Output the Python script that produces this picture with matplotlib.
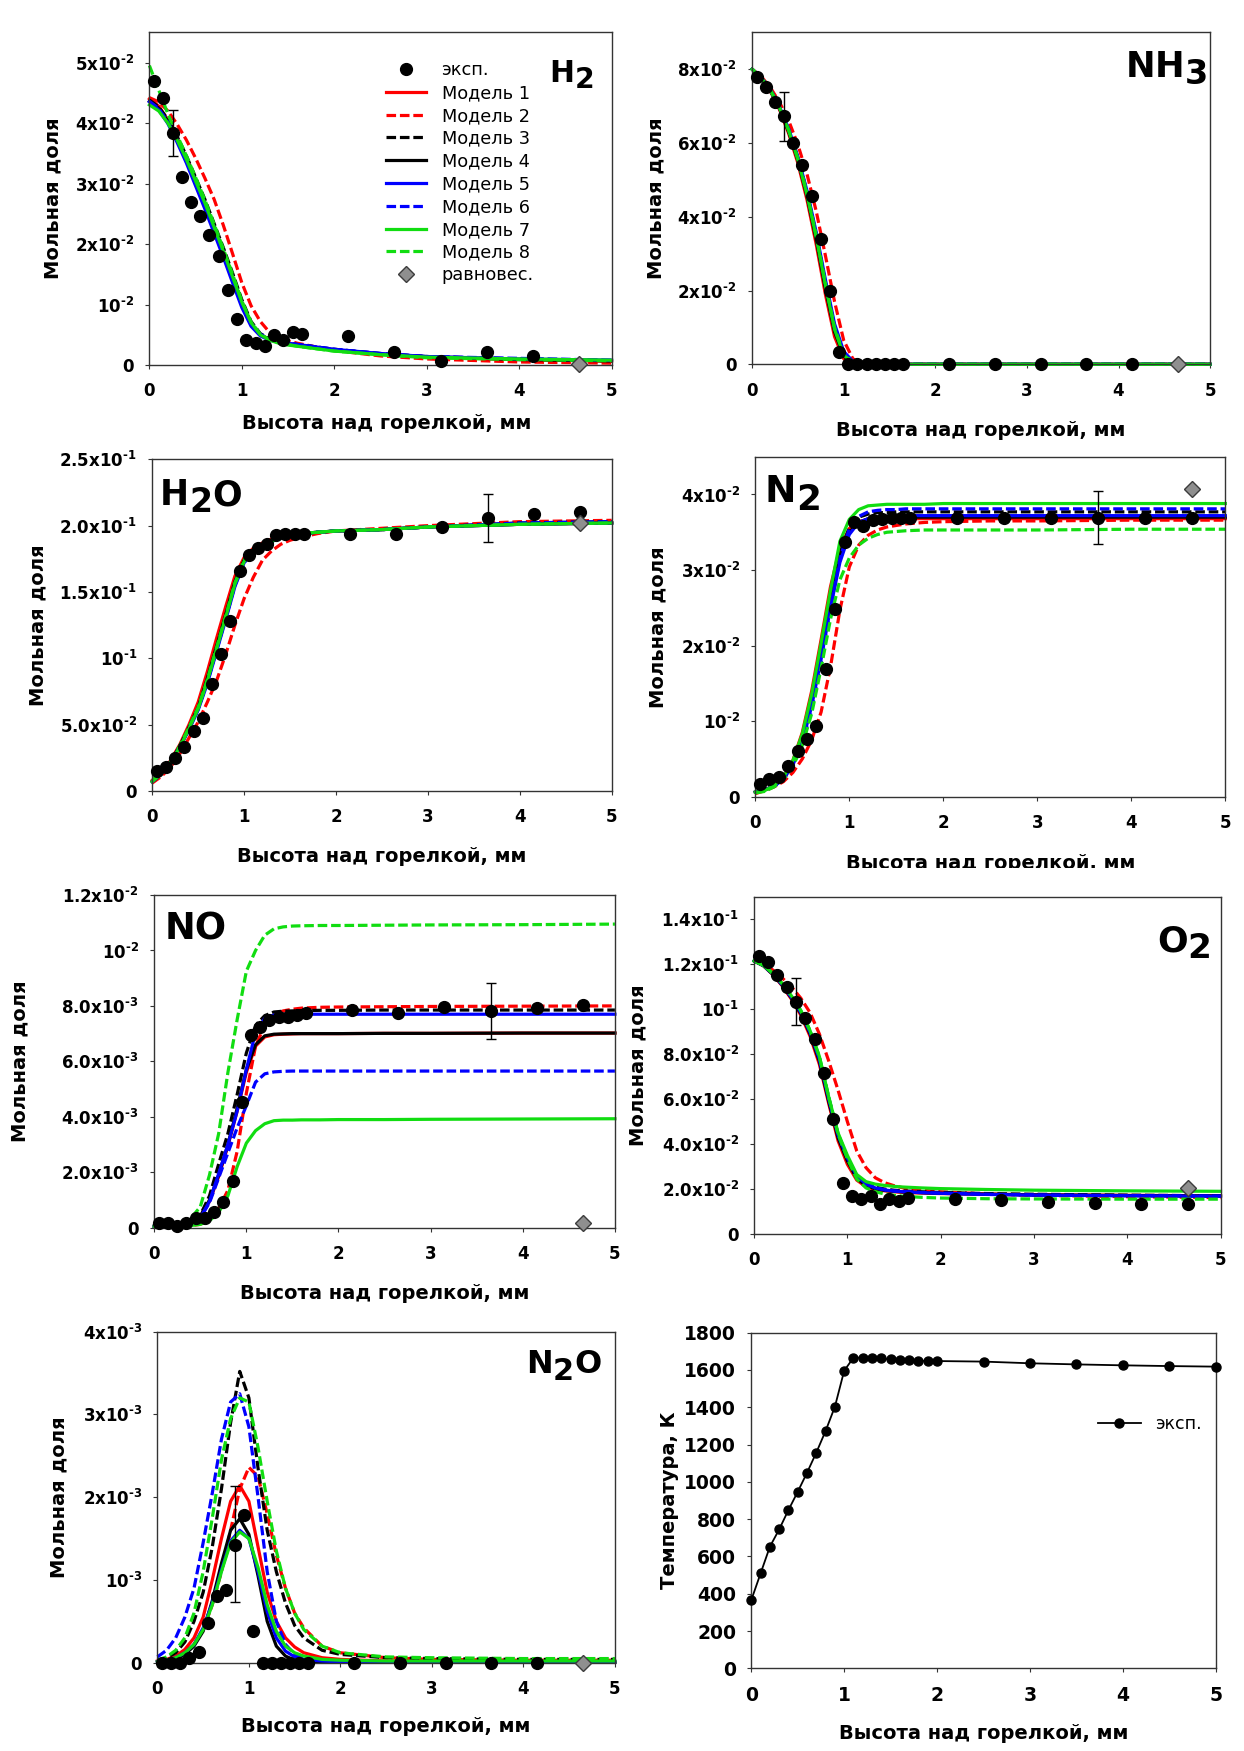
import matplotlib
matplotlib.use("Agg")
import matplotlib.pyplot as plt
from matplotlib.lines import Line2D
from matplotlib.patches import Rectangle

plt.rcParams["font.family"] = "DejaVu Sans"
plt.rcParams["mathtext.fontset"] = "dejavusans"
plt.rcParams["mathtext.default"] = "bf"

W, H = 1244, 1751

# --- data -------------------------------------------------------------
# heights above the burner, mm
z_exp = [0.05, 0.15, 0.25, 0.35, 0.45, 0.55, 0.65, 0.75, 0.85, 0.95, 1.05, 1.15,
         1.25, 1.35, 1.45, 1.55, 1.65, 2.15, 2.65, 3.15, 3.65, 4.15, 4.65]
z_mod = [0, 0.1, 0.2, 0.3, 0.4, 0.5, 0.6, 0.7, 0.8, 0.9, 1.0, 1.1, 1.2, 1.3, 1.4,
         1.5, 1.6, 1.8, 2.0, 2.5, 3.0, 4.0, 5.0]
z_eq = 4.65

# H2, units of 1e-2
h2_exp = [4.70, 4.42, 3.83, 3.11, 2.70, 2.46, 2.15, 1.81, 1.24, 0.76, 0.41, 0.37,
          0.31, 0.49, 0.41, 0.54, 0.51, 0.48, 0.22, 0.07, 0.22, 0.15]
h2_err = (0.25, 3.83, 0.38)
h2_eq = 0.02
h2_mod = [
    [4.40, 4.28, 4.05, 3.75, 3.42, 3.05, 2.68, 2.28, 1.88, 1.45, 1.02, 0.68, 0.50, 0.42, 0.38, 0.35, 0.33, 0.29, 0.25, 0.18, 0.13, 0.09, 0.06],
    [4.42, 4.35, 4.20, 3.98, 3.72, 3.42, 3.09, 2.74, 2.31, 1.84, 1.36, 0.98, 0.72, 0.54, 0.45, 0.40, 0.36, 0.30, 0.24, 0.15, 0.10, 0.05, 0.03],
    [4.38, 4.27, 4.06, 3.78, 3.46, 3.10, 2.74, 2.34, 1.94, 1.52, 1.08, 0.72, 0.52, 0.43, 0.39, 0.36, 0.34, 0.30, 0.26, 0.19, 0.14, 0.10, 0.07],
    [4.36, 4.25, 4.03, 3.74, 3.41, 3.05, 2.68, 2.28, 1.88, 1.46, 1.03, 0.68, 0.50, 0.42, 0.38, 0.35, 0.33, 0.29, 0.25, 0.18, 0.14, 0.09, 0.07],
    [4.35, 4.22, 3.99, 3.68, 3.34, 2.96, 2.58, 2.18, 1.78, 1.36, 0.95, 0.64, 0.48, 0.41, 0.38, 0.36, 0.34, 0.30, 0.26, 0.19, 0.14, 0.10, 0.08],
    [4.36, 4.24, 4.02, 3.72, 3.40, 3.03, 2.66, 2.27, 1.87, 1.45, 1.03, 0.69, 0.51, 0.43, 0.39, 0.36, 0.34, 0.30, 0.26, 0.19, 0.14, 0.11, 0.08],
    [4.30, 4.20, 4.00, 3.72, 3.40, 3.04, 2.68, 2.28, 1.88, 1.46, 1.04, 0.70, 0.50, 0.41, 0.36, 0.33, 0.31, 0.27, 0.23, 0.17, 0.13, 0.10, 0.08],
    [4.95, 4.55, 4.15, 3.80, 3.46, 3.10, 2.73, 2.33, 1.92, 1.50, 1.06, 0.71, 0.51, 0.42, 0.37, 0.34, 0.31, 0.27, 0.23, 0.17, 0.12, 0.09, 0.07],
]

# NH3, units of 1e-2
nh3_exp = [7.78, 7.51, 7.11, 6.72, 6.01, 5.39, 4.55, 3.39, 1.99, 0.34, 0, 0,
           0, 0, 0, 0, 0, 0, 0, 0, 0, 0]
nh3_err = (0.35, 6.72, 0.665)
nh3_eq = 0.0
nh3_mod = [
    [8.00, 7.75, 7.40, 6.90, 6.25, 5.45, 4.45, 3.25, 1.90, 0.75, 0.15, 0.02, 0, 0, 0, 0, 0, 0, 0, 0, 0, 0, 0],
    [8.00, 7.80, 7.50, 7.10, 6.60, 5.95, 5.15, 4.15, 2.95, 1.70, 0.65, 0.15, 0.02, 0, 0, 0, 0, 0, 0, 0, 0, 0, 0],
    [8.00, 7.77, 7.44, 6.97, 6.36, 5.60, 4.66, 3.52, 2.22, 1.02, 0.30, 0.06, 0.01, 0, 0, 0, 0, 0, 0, 0, 0, 0, 0],
    [8.00, 7.76, 7.42, 6.93, 6.30, 5.52, 4.55, 3.38, 2.05, 0.88, 0.22, 0.04, 0, 0, 0, 0, 0, 0, 0, 0, 0, 0, 0],
    [8.00, 7.77, 7.45, 6.98, 6.38, 5.62, 4.70, 3.58, 2.30, 1.10, 0.35, 0.08, 0.01, 0, 0, 0, 0, 0, 0, 0, 0, 0, 0],
    [8.00, 7.76, 7.43, 6.95, 6.34, 5.57, 4.62, 3.48, 2.18, 0.98, 0.28, 0.06, 0.01, 0, 0, 0, 0, 0, 0, 0, 0, 0, 0],
    [8.00, 7.76, 7.43, 6.95, 6.33, 5.55, 4.60, 3.45, 2.15, 0.95, 0.25, 0.05, 0, 0, 0, 0, 0, 0, 0, 0, 0, 0, 0],
    [8.00, 7.76, 7.43, 6.96, 6.35, 5.58, 4.63, 3.50, 2.20, 1.00, 0.28, 0.05, 0, 0, 0, 0, 0, 0, 0, 0, 0, 0, 0],
]

# H2O, mole fraction
h2o_exp = [0.0151, 0.0183, 0.0251, 0.0334, 0.0455, 0.0553, 0.0804, 0.103, 0.128, 0.166,
           0.178, 0.183, 0.186, 0.193, 0.194, 0.194, 0.194, 0.194, 0.194, 0.199,
           0.2055, 0.209, 0.210]
h2o_err = (3.65, 0.2055, 0.018)
h2o_eq = 0.2023
h2o_mod = [
    [.008, .014, .023, .035, .050, .067, .090, .115, .139, .162, .176, .183, .187, .190, .192, .193, .194, .195, .196, .197, .199, .201, .202],
    [.006, .011, .018, .028, .040, .052, .067, .083, .103, .125, .145, .161, .174, .181, .186, .189, .191, .194, .196, .198, .200, .203, .204],
    [.007, .013, .022, .033, .047, .062, .083, .107, .131, .156, .173, .181, .185, .188, .191, .193, .194, .195, .196, .197, .199, .202, .203],
    [.007, .013, .022, .034, .048, .063, .085, .109, .133, .158, .174, .182, .186, .189, .191, .193, .194, .195, .196, .197, .199, .201, .202],
    [.007, .013, .022, .033, .046, .061, .081, .105, .129, .154, .172, .181, .185, .188, .191, .193, .194, .195, .196, .197, .199, .201, .202],
    [.007, .013, .022, .033, .047, .062, .082, .106, .130, .155, .172, .181, .185, .188, .191, .193, .194, .195, .196, .197, .199, .202, .203],
    [.007, .013, .022, .033, .047, .062, .083, .107, .131, .156, .173, .181, .185, .188, .191, .193, .194, .195, .196, .197, .199, .201, .202],
    [.008, .014, .023, .034, .048, .063, .084, .108, .132, .157, .174, .182, .186, .189, .191, .193, .194, .195, .196, .197, .199, .201, .202],
]

# N2, units of 1e-2
n2_exp = [0.163, 0.23, 0.265, 0.40, 0.61, 0.76, 0.93, 1.69, 2.48, 3.37, 3.63, 3.58,
          3.66, 3.68, 3.69, 3.69, 3.69, 3.69, 3.69, 3.69, 3.69, 3.69, 3.69]
n2_err = (3.65, 3.69, 0.35)
n2_eq = 4.07
n2_mod = [
    [0.06, 0.09, 0.15, 0.26, 0.48, 0.85, 1.40, 2.08, 2.78, 3.30, 3.55, 3.64, 3.67, 3.68, 3.68, 3.68, 3.68, 3.68, 3.68, 3.68, 3.68, 3.68, 3.68],
    [0.04, 0.08, 0.13, 0.20, 0.32, 0.50, 0.75, 1.12, 1.72, 2.47, 3.04, 3.33, 3.46, 3.53, 3.57, 3.59, 3.61, 3.63, 3.64, 3.65, 3.65, 3.66, 3.66],
    [0.06, 0.09, 0.14, 0.24, 0.44, 0.76, 1.27, 1.93, 2.63, 3.22, 3.56, 3.70, 3.74, 3.76, 3.76, 3.77, 3.77, 3.77, 3.77, 3.77, 3.77, 3.77, 3.77],
    [0.06, 0.09, 0.14, 0.24, 0.44, 0.78, 1.30, 1.97, 2.65, 3.20, 3.50, 3.63, 3.68, 3.69, 3.70, 3.70, 3.70, 3.70, 3.70, 3.70, 3.70, 3.70, 3.70],
    [0.06, 0.09, 0.14, 0.23, 0.42, 0.72, 1.20, 1.82, 2.50, 3.10, 3.47, 3.63, 3.68, 3.70, 3.71, 3.71, 3.72, 3.72, 3.72, 3.72, 3.72, 3.72, 3.72],
    [0.06, 0.09, 0.14, 0.23, 0.41, 0.70, 1.15, 1.78, 2.50, 3.15, 3.55, 3.71, 3.77, 3.79, 3.80, 3.80, 3.81, 3.81, 3.81, 3.81, 3.81, 3.81, 3.81],
    [0.06, 0.08, 0.15, 0.26, 0.48, 0.83, 1.36, 2.03, 2.73, 3.38, 3.67, 3.80, 3.85, 3.86, 3.87, 3.87, 3.87, 3.87, 3.88, 3.88, 3.88, 3.88, 3.88],
    [0.05, 0.07, 0.13, 0.23, 0.40, 0.68, 1.10, 1.70, 2.35, 2.87, 3.16, 3.33, 3.42, 3.47, 3.50, 3.51, 3.52, 3.53, 3.53, 3.53, 3.53, 3.54, 3.54],
]

# NO, units of 1e-3
no_exp = [0.16, 0.16, 0.07, 0.16, 0.36, 0.34, 0.55, 0.94, 1.68, 4.54, 6.95, 7.25,
          7.49, 7.61, 7.61, 7.67, 7.73, 7.87, 7.75, 7.97, 7.81, 7.93, 8.03]
no_err = (3.65, 7.81, 1.0)
no_eq = 0.18
no_mod = [
    [0.05, 0.05, 0.06, 0.08, 0.15, 0.40, 0.95, 1.85, 2.95, 4.20, 5.60, 6.55, 6.88, 6.96, 6.98, 6.99, 7.00, 7.00, 7.00, 7.01, 7.01, 7.02, 7.02],
    [0.05, 0.05, 0.05, 0.06, 0.08, 0.12, 0.30, 0.70, 1.35, 2.75, 4.85, 6.55, 7.30, 7.65, 7.82, 7.88, 7.92, 7.95, 7.96, 7.97, 7.98, 7.99, 8.00],
    [0.05, 0.05, 0.06, 0.10, 0.20, 0.45, 1.15, 2.30, 3.40, 4.80, 6.30, 7.30, 7.65, 7.78, 7.81, 7.82, 7.83, 7.84, 7.84, 7.85, 7.85, 7.85, 7.85],
    [0.05, 0.05, 0.06, 0.09, 0.17, 0.42, 1.00, 1.90, 3.00, 4.30, 5.70, 6.60, 6.92, 6.98, 6.99, 7.00, 7.00, 7.00, 7.00, 7.01, 7.01, 7.02, 7.02],
    [0.05, 0.05, 0.06, 0.09, 0.16, 0.35, 0.95, 1.95, 3.00, 4.20, 5.70, 7.05, 7.55, 7.67, 7.69, 7.70, 7.70, 7.70, 7.70, 7.70, 7.70, 7.70, 7.70],
    [0.05, 0.05, 0.06, 0.09, 0.16, 0.35, 0.90, 1.80, 2.70, 3.60, 4.40, 5.25, 5.55, 5.62, 5.64, 5.65, 5.65, 5.65, 5.65, 5.65, 5.65, 5.65, 5.65],
    [0.05, 0.05, 0.05, 0.06, 0.08, 0.12, 0.25, 0.55, 1.15, 2.20, 3.05, 3.50, 3.75, 3.86, 3.88, 3.88, 3.89, 3.89, 3.90, 3.90, 3.91, 3.92, 3.93],
    [0.05, 0.06, 0.08, 0.15, 0.35, 0.75, 1.90, 3.40, 5.60, 7.50, 9.25, 10.00, 10.55, 10.78, 10.85, 10.88, 10.89, 10.90, 10.90, 10.91, 10.92, 10.93, 10.95],
]

# O2, units of 1e-2
o2_exp = [12.37, 12.12, 11.52, 10.97, 10.34, 9.62, 8.66, 7.18, 5.10, 2.28, 1.69, 1.54,
          1.69, 1.33, 1.54, 1.47, 1.59, 1.56, 1.51, 1.44, 1.36, 1.32, 1.32]
o2_err = (0.45, 10.34, 1.04)
o2_eq = 2.03
o2_mod = [
    [12.15, 11.93, 11.55, 11.05, 10.45, 9.75, 8.80, 7.55, 5.80, 4.15, 3.10, 2.40, 2.10, 1.98, 1.92, 1.88, 1.85, 1.82, 1.80, 1.77, 1.75, 1.72, 1.70],
    [12.15, 12.00, 11.75, 11.40, 11.00, 10.50, 9.85, 8.90, 7.70, 6.40, 5.00, 3.70, 2.95, 2.50, 2.28, 2.15, 2.05, 1.95, 1.88, 1.78, 1.72, 1.66, 1.62],
    [12.15, 11.95, 11.58, 11.12, 10.55, 9.90, 9.00, 7.80, 6.00, 4.40, 3.40, 2.55, 2.22, 2.08, 2.00, 1.95, 1.92, 1.88, 1.85, 1.80, 1.77, 1.73, 1.70],
    [12.15, 11.94, 11.56, 11.08, 10.50, 9.82, 8.90, 7.68, 5.90, 4.28, 3.25, 2.48, 2.15, 2.01, 1.94, 1.90, 1.87, 1.84, 1.81, 1.77, 1.74, 1.71, 1.69],
    [12.15, 11.95, 11.58, 11.10, 10.53, 9.87, 8.97, 7.78, 6.00, 4.40, 3.38, 2.58, 2.22, 2.05, 1.96, 1.91, 1.88, 1.84, 1.81, 1.76, 1.73, 1.70, 1.68],
    [12.15, 11.95, 11.58, 11.11, 10.55, 9.90, 9.00, 7.82, 6.05, 4.45, 3.42, 2.60, 2.24, 2.06, 1.97, 1.92, 1.89, 1.85, 1.82, 1.77, 1.74, 1.71, 1.69],
    [12.15, 11.95, 11.60, 11.15, 10.60, 9.95, 9.05, 7.90, 6.10, 4.50, 3.50, 2.65, 2.33, 2.22, 2.16, 2.12, 2.09, 2.05, 2.02, 1.98, 1.95, 1.92, 1.90],
    [12.15, 11.96, 11.60, 11.15, 10.60, 9.95, 9.05, 7.90, 6.10, 4.45, 3.35, 2.45, 2.05, 1.88, 1.78, 1.72, 1.68, 1.63, 1.60, 1.57, 1.56, 1.55, 1.55],
]

# N2O, units of 1e-3
n2o_exp = [0, 0, 0, 0.06, 0.13, 0.475, 0.81, 0.88, 1.42, 1.78, 0.38, 0,
           0, 0, 0, 0, 0, 0, 0, 0, 0, 0]
n2o_err = (0.85, 1.43, 0.70)
n2o_eq = 0.0
n2o_mod = [
    [0.02, 0.04, 0.08, 0.16, 0.30, 0.55, 1.00, 1.50, 1.95, 2.14, 1.95, 1.40, 0.85, 0.50, 0.30, 0.19, 0.12, 0.06, 0.04, 0.02, 0.01, 0.01, 0.01],
    [0.02, 0.03, 0.06, 0.12, 0.22, 0.40, 0.70, 1.10, 1.60, 2.10, 2.36, 2.25, 1.80, 1.30, 0.90, 0.60, 0.42, 0.20, 0.12, 0.06, 0.04, 0.03, 0.03],
    [0.03, 0.06, 0.12, 0.25, 0.50, 0.85, 1.40, 2.10, 2.90, 3.52, 3.20, 2.35, 1.60, 1.10, 0.72, 0.45, 0.30, 0.15, 0.10, 0.06, 0.05, 0.04, 0.04],
    [0.01, 0.02, 0.05, 0.10, 0.20, 0.38, 0.75, 1.20, 1.60, 1.74, 1.55, 1.05, 0.50, 0.20, 0.08, 0.03, 0.01, 0.005, 0.005, 0.005, 0.005, 0.005, 0.005],
    [0.01, 0.03, 0.06, 0.12, 0.22, 0.42, 0.72, 1.12, 1.47, 1.60, 1.50, 1.10, 0.62, 0.30, 0.14, 0.07, 0.04, 0.02, 0.01, 0.01, 0.01, 0.01, 0.01],
    [0.07, 0.15, 0.30, 0.55, 0.90, 1.45, 2.05, 2.70, 3.15, 3.25, 2.85, 2.00, 1.10, 0.50, 0.22, 0.10, 0.06, 0.03, 0.02, 0.01, 0.01, 0.01, 0.01],
    [0.01, 0.03, 0.06, 0.12, 0.22, 0.40, 0.70, 1.10, 1.45, 1.58, 1.50, 1.15, 0.70, 0.38, 0.20, 0.12, 0.08, 0.04, 0.03, 0.02, 0.02, 0.02, 0.02],
    [0.03, 0.07, 0.15, 0.30, 0.60, 1.10, 1.75, 2.45, 2.95, 3.20, 3.15, 2.60, 1.95, 1.35, 0.90, 0.60, 0.40, 0.20, 0.12, 0.07, 0.06, 0.05, 0.05],
]

# temperature profile
t_z = [0, 0.1, 0.2, 0.3, 0.4, 0.5, 0.6, 0.7, 0.8, 0.9, 1.0, 1.1, 1.2, 1.3, 1.4,
       1.5, 1.6, 1.7, 1.8, 1.9, 2.0, 2.5, 3.0, 3.5, 4.0, 4.5, 5.0]
t_K = [366, 509, 652, 745, 849, 947, 1049, 1157, 1273, 1403, 1596, 1666, 1666, 1662,
       1662, 1657, 1653, 1653, 1650, 1648, 1648, 1645, 1636, 1630, 1625, 1621, 1618]


def sci(m, e):
    return (m + "x" if m else "") + "10$^{\u2010%d}$" % e


h2_ticks = [0, 1, 2, 3, 4, 5]
h2_labels = ["0", sci("", 2), sci("2", 2), sci("3", 2), sci("4", 2), sci("5", 2)]
nh3_ticks = [0, 2, 4, 6, 8]
nh3_labels = ["0", sci("2", 2), sci("4", 2), sci("6", 2), sci("8", 2)]
h2o_ticks = [0, 0.05, 0.10, 0.15, 0.20, 0.25]
h2o_labels = ["0", sci("5.0", 2), sci("", 1), sci("1.5", 1), sci("2.0", 1), sci("2.5", 1)]
n2_ticks = [0, 1, 2, 3, 4]
n2_labels = ["0", sci("", 2), sci("2", 2), sci("3", 2), sci("4", 2)]
no_ticks = [0, 2, 4, 6, 8, 10, 12]
no_labels = ["0", sci("2.0", 3), sci("4.0", 3), sci("6.0", 3), sci("8.0", 3), sci("", 2), sci("1.2", 2)]
o2_ticks = [0, 2, 4, 6, 8, 10, 12, 14]
o2_labels = ["0", sci("2.0", 2), sci("4.0", 2), sci("6.0", 2), sci("8.0", 2), sci("", 1), sci("1.2", 1), sci("1.4", 1)]
n2o_ticks = [0, 1, 2, 3, 4]
n2o_labels = ["0", sci("", 3), sci("2", 3), sci("3", 3), sci("4", 3)]
t_ticks = list(range(0, 1801, 200))

model_names = ["Модель %d" % i for i in range(1, 9)]
model_styles = [("#ff0000", "-"), ("#ff0000", "--"), ("#000000", "--"), ("#000000", "-"),
                ("#0000ff", "-"), ("#0000ff", "--"), ("#11dd11", "-"), ("#11dd11", "--")]

XLAB = "Высота над горелкой, мм"
YLAB = "Мольная доля"
EQ_FACE, EQ_EDGE = "#8f8f8f", "#3c3c3c"
DASH = (3.0, 1.2)
LW = 2.3

# --- figure -----------------------------------------------------------
fig = plt.figure(figsize=(W / 100, H / 100), dpi=100)
fig.patch.set_facecolor("white")


def fx(x):
    return x / W


def fy(y):
    return 1 - y / H


def make_axes(l, t, r, b, ticksize=12):
    ax = fig.add_axes([fx(l), fy(b), (r - l) / W, (b - t) / H])
    for s in ax.spines.values():
        s.set_color("#333333")
        s.set_linewidth(1.0)
    ax.tick_params(direction="out", length=3, width=0.8, color="#333333",
                   labelsize=ticksize)
    ax.tick_params(axis="x", pad=9.5)
    ax.tick_params(axis="y", pad=8)
    ax.set_xlim(0, 5)
    ax.set_xticks([0, 1, 2, 3, 4, 5])
    ax.set_xticklabels(["0", "1", "2", "3", "4", "5"], fontweight="bold")
    return ax


def axis_labels(ax, l, t, r, b, ylab, ylab_x, xlab_y=None, xlab_x=None, ysize=14):
    ax.set_ylabel(ylab, fontsize=ysize, fontweight="bold", va="center")
    ax.yaxis.set_label_coords(fx(ylab_x), fy((t + b) / 2), transform=fig.transFigure)
    if xlab_y is not None:
        ax.set_xlabel(XLAB, fontsize=14, fontweight="bold", va="center")
        cx = (l + r) / 2 if xlab_x is None else xlab_x
        ax.xaxis.set_label_coords(fx(cx), fy(xlab_y), transform=fig.transFigure)


def formula(ax, x, y, parts, size):
    # chemical formula with lowered digits, letters and digits at nearly the same size
    prev = fig.text(fx(x), fy(y), parts[0], fontsize=size, fontweight="bold",
                    ha="left", va="baseline")
    low = False
    for p in parts[1:]:
        is_digit = p.isdigit()
        if is_digit and not low:
            dy, fs = -0.2 * size, 0.95 * size
        elif not is_digit and low:
            dy, fs = 0.2 * size, size
        else:
            dy, fs = 0, size if not is_digit else 0.95 * size
        low = is_digit
        prev = ax.annotate(p, xy=(1, 0), xycoords=prev, xytext=(0, dy),
                           textcoords="offset points", fontsize=fs, fontweight="bold",
                           ha="left", va="bottom", annotation_clip=False)


def species(ax, scale, mod, exp, err, eq, ylim, ticks, labels):
    for (c, ls), y in zip(model_styles, mod):
        kw = dict(dashes=DASH) if ls == "--" else {}
        ax.plot(z_mod, [v * scale for v in y], color=c, lw=LW, ls=ls,
                clip_on=False, zorder=2, **kw)
    ax.plot(z_exp[:len(exp)], [v * scale for v in exp], ls="none", marker="o",
            ms=8.5, color="k", clip_on=False, zorder=4)
    ax.errorbar([err[0]], [err[1] * scale], yerr=[err[2] * scale], fmt="none",
                ecolor="k", elinewidth=1.0, capsize=3.7, capthick=1.0, zorder=3)
    ax.plot([z_eq], [eq * scale], ls="none", marker="D", ms=8.5, mfc=EQ_FACE,
            mec=EQ_EDGE, mew=1.0, clip_on=False, zorder=5)
    ax.set_ylim(*ylim)
    ax.set_yticks([v * scale for v in ticks])
    ax.set_yticklabels(labels, fontweight="bold")


# H2
box = (149.4, 31.7, 611.5, 365.0)
ax = make_axes(*box)
species(ax, 1e-2, h2_mod, h2_exp, h2_err, h2_eq, (0, 0.0551), h2_ticks, h2_labels)
axis_labels(ax, *box, YLAB, 53, 423, 386.5)
formula(ax, 549.6, 81.7, ["H", "2"], 21.4)
handles = [Line2D([], [], ls="none", marker="o", ms=8.5, color="k")]
for c, ls in model_styles:
    kw = dict(dashes=DASH) if ls == "--" else {}
    handles.append(Line2D([], [], color=c, lw=LW, ls=ls, **kw))
handles.append(Line2D([], [], ls="none", marker="D", ms=8.5, mfc=EQ_FACE, mec=EQ_EDGE))
l, t, r, b = box
ax.legend(handles, ["эксп."] + model_names + ["равновес."], loc="upper left",
          bbox_to_anchor=((385.5 - l) / (r - l), (b - 61.3) / (b - t)),
          frameon=False, fontsize=12.8, handlelength=2.3, handletextpad=0.85,
          labelspacing=0.27, borderpad=0, borderaxespad=0)

# NH3
box = (752.1, 32.3, 1210.1, 364.3)
ax = make_axes(*box)
species(ax, 1e-2, nh3_mod, nh3_exp, nh3_err, nh3_eq, (0, 0.09), nh3_ticks, nh3_labels)
axis_labels(ax, *box, YLAB, 656, 430)
formula(ax, 1125.4, 76.7, ["N", "H", "3"], 25.5)

# H2O
box = (152.2, 459.3, 611.7, 791.0)
ax = make_axes(*box)
species(ax, 1.0, h2o_mod, h2o_exp, h2o_err, h2o_eq, (0, 0.25), h2o_ticks, h2o_labels)
axis_labels(ax, *box, YLAB, 37.6, 856.7)
formula(ax, 160, 505, ["H", "2", "O"], 25)

# N2
box = (755.3, 456.7, 1225.3, 796.7)
ax = make_axes(*box)
species(ax, 1e-2, n2_mod, n2_exp, n2_err, n2_eq, (0, 0.045), n2_ticks, n2_labels)
axis_labels(ax, *box, YLAB, 658, 863)
formula(ax, 765, 502, ["N", "2"], 27)

# NO
box = (154.2, 895.0, 614.9, 1227.7)
ax = make_axes(*box)
species(ax, 1e-3, no_mod, no_exp, no_err, no_eq, (0, 0.012), no_ticks, no_labels)
axis_labels(ax, *box, YLAB, 20, 1293)
formula(ax, 165, 939, ["NO"], 26.5)

# O2 (no x label under this panel)
box = (754.1, 896.7, 1220.5, 1234.0)
ax = make_axes(*box)
species(ax, 1e-2, o2_mod, o2_exp, o2_err, o2_eq, (0, 0.1501), o2_ticks, o2_labels)
axis_labels(ax, *box, YLAB, 638)
formula(ax, 1157, 951, ["O", "2"], 26)

# N2O
box = (157.4, 1331.7, 614.9, 1662.7)
ax = make_axes(*box)
species(ax, 1e-3, n2o_mod, n2o_exp, n2o_err, n2o_eq, (0, 0.004), n2o_ticks, n2o_labels)
axis_labels(ax, *box, YLAB, 59, 1726.7)
formula(ax, 526, 1373, ["N", "2", "O"], 23)

# temperature
box = (751.3, 1332.7, 1215.7, 1668.3)
ax = make_axes(*box, ticksize=13.5)
ax.plot(t_z, t_K, color="k", lw=1.3, marker="o", ms=6.5, clip_on=False, zorder=3,
        label="эксп.")
ax.set_ylim(0, 1800)
ax.set_yticks(t_ticks)
ax.set_yticklabels([str(v) for v in t_ticks], fontweight="bold")
axis_labels(ax, *box, "Температура, К", 670, 1733)
l, t, r, b = box
ax.legend(loc="upper left", bbox_to_anchor=((1097.5 - l) / (r - l), (b - 1414.8) / (b - t)),
          frameon=False, fontsize=12.5, handlelength=2.5, handletextpad=0.8,
          borderpad=0, borderaxespad=0)

# the N2 axis title is cut off at its lower edge by the panel below
fig.add_artist(Rectangle((fx(640), fy(886)), (1244 - 640) / W, 17.5 / H,
                         transform=fig.transFigure, facecolor="white",
                         edgecolor="none", zorder=10))

fig.savefig("out.png", dpi=100, facecolor="white")
